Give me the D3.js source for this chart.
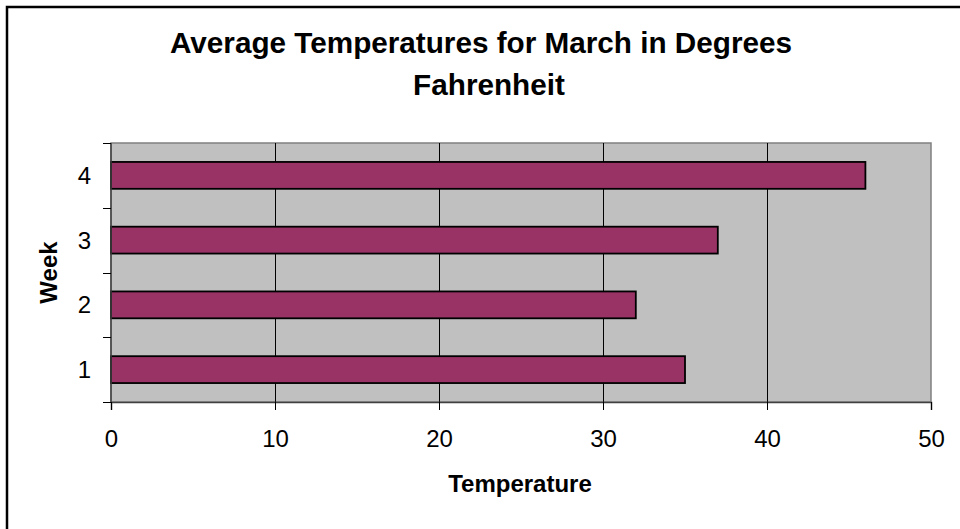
<!DOCTYPE html>
<html>
<head>
<meta charset="utf-8">
<script src="https://cdn.jsdelivr.net/npm/d3@7"></script>
<style>
  html, body { margin: 0; padding: 0; background: #ffffff; }
  svg { display: block; }
  text { font-family: "Liberation Sans", Arial, sans-serif; fill: #000; }
</style>
</head>
<body>
<svg id="chart" width="960" height="529"></svg>
<script>
// Weekly average temperatures for March (°F)
const weeks = ["1", "2", "3", "4"];
const temperatures = [35, 32, 37, 46];
const xTicks = [0, 10, 20, 30, 40, 50];
const titleLines = ["Average Temperatures for March in Degrees", "Fahrenheit"];
const xTitle = "Temperature";
const yTitle = "Week";

const svg = d3.select("#chart");
const plot = { left: 111, right: 931, top: 143, bottom: 402 };

// Outer chart frame (runs off the right and bottom edges)
svg.append("rect")
  .attr("x", 7).attr("y", 7)
  .attr("width", 1000).attr("height", 600)
  .attr("fill", "#fff")
  .attr("stroke", "#000")
  .attr("stroke-width", 2.5);

const x = d3.scaleLinear().domain([0, 50]).range([plot.left, plot.right]);
const y = d3.scaleBand()
  .domain(weeks.slice().reverse())
  .range([plot.top, plot.bottom])
  .paddingInner(0.585)
  .paddingOuter(0.2925);

// Plot background
svg.append("rect")
  .attr("x", plot.left).attr("y", plot.top)
  .attr("width", plot.right - plot.left).attr("height", plot.bottom - plot.top)
  .attr("fill", "#c0c0c0")
  .attr("stroke", "#808080")
  .attr("stroke-width", 1.5);

// Vertical gridlines
svg.append("g")
  .selectAll("line")
  .data(xTicks.filter(d => d > 0 && d < 50))
  .join("line")
  .attr("x1", d => Math.round(x(d)) + 0.5).attr("x2", d => Math.round(x(d)) + 0.5)
  .attr("y1", plot.top).attr("y2", plot.bottom)
  .attr("stroke", "#000").attr("stroke-width", 1);

// Bars
svg.append("g")
  .selectAll("rect")
  .data(weeks.map((w, i) => ({ week: w, value: temperatures[i] })))
  .join("rect")
  .attr("x", x(0))
  .attr("y", d => y(d.week))
  .attr("width", d => x(d.value) - x(0))
  .attr("height", y.bandwidth())
  .attr("fill", "#993366")
  .attr("stroke", "#000")
  .attr("stroke-width", 1.8);

// X axis
const xAxis = svg.append("g")
  .attr("transform", `translate(0,${plot.bottom})`)
  .call(d3.axisBottom(x).tickValues(xTicks).tickSize(8).tickPadding(20).tickFormat(d3.format("d")));
xAxis.select(".domain").attr("stroke", "#404040").attr("stroke-width", 1.5);
xAxis.selectAll(".tick line").attr("stroke", "#000");
xAxis.selectAll(".tick text")
  .attr("font-size", 24)
  .style("font-family", "'Liberation Sans', Arial, sans-serif")
  .attr("fill", "#000");

// Y axis: ticks sit on band boundaries, labels at band centres
const yBoundaries = [0, 1, 2, 3, 4].map(i => plot.top + i * y.step());
const yAxisG = svg.append("g");
yAxisG.append("line")
  .attr("x1", plot.left).attr("x2", plot.left)
  .attr("y1", plot.top).attr("y2", plot.bottom)
  .attr("stroke", "#404040").attr("stroke-width", 1.5);
yAxisG.selectAll("line.tick")
  .data(yBoundaries)
  .join("line")
  .attr("class", "tick")
  .attr("x1", plot.left - 8).attr("x2", plot.left)
  .attr("y1", d => Math.round(d) + 0.5).attr("y2", d => Math.round(d) + 0.5)
  .attr("stroke", "#000");
yAxisG.selectAll("text")
  .data(weeks)
  .join("text")
  .attr("x", 91)
  .attr("y", d => y(d) + y.bandwidth() / 2)
  .attr("dy", "0.35em")
  .attr("text-anchor", "end")
  .attr("font-size", 24)
  .text(d => d);

// Titles
svg.append("text")
  .attr("text-anchor", "middle")
  .attr("font-size", 29.7)
  .attr("font-weight", "bold")
  .selectAll("tspan")
  .data(titleLines)
  .join("tspan")
  .attr("x", (d, i) => i === 0 ? 481 : 489)
  .attr("y", (d, i) => 53 + i * 42)
  .text(d => d);

svg.append("text")
  .attr("x", 520).attr("y", 492)
  .attr("text-anchor", "middle")
  .attr("font-size", 24)
  .attr("font-weight", "bold")
  .text(xTitle);

svg.append("text")
  .attr("transform", `translate(57,${(plot.top + plot.bottom) / 2}) rotate(-90)`)
  .attr("text-anchor", "middle")
  .attr("font-size", 24)
  .attr("font-weight", "bold")
  .text(yTitle);
</script>
</body>
</html>
